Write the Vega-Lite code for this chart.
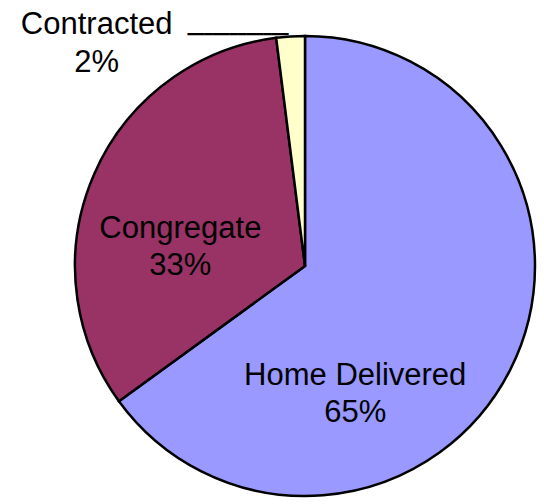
{
  "$schema": "https://vega.github.io/schema/vega-lite/v6.json",
  "width": 460,
  "height": 460,
  "autosize": {"type": "none"},
  "padding": {"left": 75, "top": 36, "right": 9, "bottom": 8},
  "background": "white",
  "config": {"view": {"stroke": null}},
  "data": {
    "values": [
      {"category": "Home Delivered", "share": 65},
      {"category": "Congregate", "share": 33},
      {"category": "Contracted", "share": 2}
    ]
  },
  "layer": [
    {
      "mark": {"type": "arc", "stroke": "black", "strokeWidth": 2.5},
      "encoding": {
        "theta": {"field": "share", "type": "quantitative", "stack": true, "scale": {"domain": [0, 100]}},
        "color": {
          "field": "category",
          "type": "nominal",
          "scale": {"domain": ["Home Delivered", "Congregate", "Contracted"], "range": ["#9999FF", "#993366", "#FFFFCC"]},
          "legend": null
        },
        "order": {"field": "share", "sort": "descending"}
      }
    },
    {
      "transform": [
        {"window": [{"op": "sum", "field": "share", "as": "cum"}], "sort": [{"field": "share", "order": "descending"}], "frame": [null, 0]},
        {"calculate": "datum.cum - datum.share/2", "as": "mid"},
        {"calculate": "datum.category + '\\n' + datum.share + '%'", "as": "label"},
        {"filter": "datum.category === 'Home Delivered'"}
      ],
      "mark": {"type": "text", "font": "Liberation Sans", "fontSize": 31, "lineBreak": "\n", "lineHeight": 37.5, "align": "center", "baseline": "alphabetic", "radius": 99, "dx": -38, "dy": 74, "color": "black"},
      "encoding": {
        "theta": {"field": "mid", "type": "quantitative", "scale": {"domain": [0, 100]}},
        "text": {"field": "label", "type": "nominal"}
      }
    },
    {
      "transform": [
        {"window": [{"op": "sum", "field": "share", "as": "cum"}], "sort": [{"field": "share", "order": "descending"}], "frame": [null, 0]},
        {"calculate": "datum.cum - datum.share/2", "as": "mid"},
        {"calculate": "datum.category + '\\n' + datum.share + '%'", "as": "label"},
        {"filter": "datum.category === 'Congregate'"}
      ],
      "mark": {"type": "text", "font": "Liberation Sans", "fontSize": 31, "lineBreak": "\n", "lineHeight": 37.5, "align": "center", "baseline": "alphabetic", "radius": 126, "dx": -9, "dy": 22, "color": "black"},
      "encoding": {
        "theta": {"field": "mid", "type": "quantitative", "scale": {"domain": [0, 100]}},
        "text": {"field": "label", "type": "nominal"}
      }
    },
    {
      "transform": [
        {"window": [{"op": "sum", "field": "share", "as": "cum"}], "sort": [{"field": "share", "order": "descending"}], "frame": [null, 0]},
        {"calculate": "datum.cum - datum.share/2", "as": "mid"},
        {"calculate": "datum.category + '\\n' + datum.share + '%'", "as": "label"},
        {"filter": "datum.category === 'Contracted'"}
      ],
      "mark": {"type": "text", "font": "Liberation Sans", "fontSize": 31, "lineBreak": "\n", "lineHeight": 37.5, "align": "center", "baseline": "alphabetic", "radius": 244, "dx": -193, "dy": 12, "color": "black"},
      "encoding": {
        "theta": {"field": "mid", "type": "quantitative", "scale": {"domain": [0, 100]}},
        "text": {"field": "label", "type": "nominal"}
      }
    },
    {
      "transform": [
        {"window": [{"op": "sum", "field": "share", "as": "cum"}], "sort": [{"field": "share", "order": "descending"}], "frame": [null, 0]},
        {"calculate": "datum.cum - datum.share/2", "as": "mid"},
        {"filter": "datum.category === 'Contracted'"}
      ],
      "mark": {"type": "text", "font": "DejaVu Sans", "fontSize": 14, "align": "right", "baseline": "middle", "radius": 230, "dx": -2, "dy": -1, "color": "black", "text": "━━━━━━━━━━━━"},
      "encoding": {
        "theta": {"field": "mid", "type": "quantitative", "scale": {"domain": [0, 100]}}
      }
    }
  ],
  "resolve": {"scale": {"theta": "independent"}}
}
